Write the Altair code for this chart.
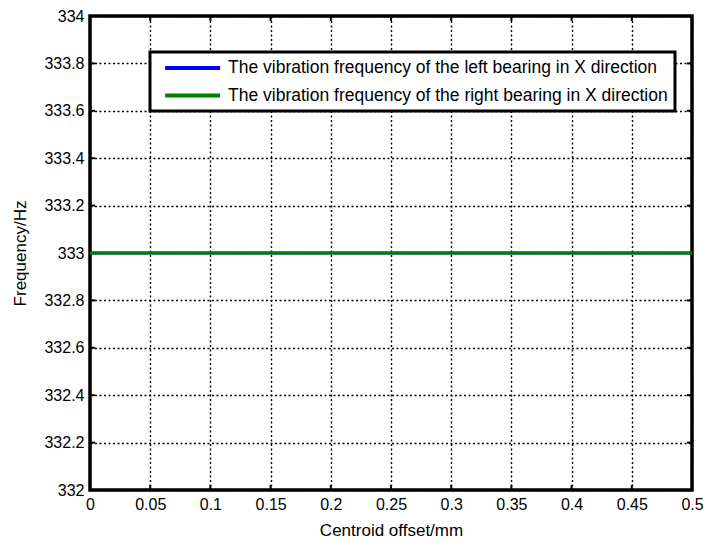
import altair as alt
import pandas as pd

offsets = [0.0, 0.05, 0.1, 0.15, 0.2, 0.25, 0.3, 0.35, 0.4, 0.45, 0.5]
left_freq = [333, 333, 333, 333, 333, 333, 333, 333, 333, 333, 333]
right_freq = [333, 333, 333, 333, 333, 333, 333, 333, 333, 333, 333]
series_names = [
    "The vibration frequency of the left bearing in X direction",
    "The vibration frequency of the right bearing in X direction",
]
series_colors = ["#0000ff", "#007f00"]
x_ticks = [0.0, 0.05, 0.1, 0.15, 0.2, 0.25, 0.3, 0.35, 0.4, 0.45, 0.5]
y_ticks = [332, 332.2, 332.4, 332.6, 332.8, 333, 333.2, 333.4, 333.6, 333.8, 334]

W, H = 602, 474
FONT = "Liberation Sans"

rows = []
for i, name in enumerate(series_names):
    vals = left_freq if i == 0 else right_freq
    for x, y in zip(offsets, vals):
        rows.append({"offset": x, "freq": y, "series": name, "order": i})
df = pd.DataFrame(rows)

xscale = alt.Scale(domain=[0, 0.5], nice=False, zero=False)
yscale = alt.Scale(domain=[332, 334], nice=False, zero=False)

xaxis = alt.Axis(
    values=x_ticks, grid=True, gridDash=[2, 2.5], gridColor="black", gridWidth=1.4,
    gridOpacity=1, ticks=False, domain=False, labelFont=FONT, labelFontSize=16,
    labelColor="black", labelPadding=6, labelFlush=False, labelOverlap=False,
    labelExpr="datum.value == 0 ? '0' : format(datum.value, '.2~f')",
    title="Centroid offset/mm", titleFont=FONT, titleFontSize=17, titleFontWeight="normal",
    titleColor="black", titleX=W / 2, titleY=45, titleBaseline="alphabetic",
)
yaxis = alt.Axis(
    values=y_ticks, grid=True, gridDash=[2, 2.5], gridColor="black", gridWidth=1.4,
    gridOpacity=1, ticks=False, domain=False, labelFont=FONT, labelFontSize=16,
    labelColor="black", labelPadding=6, labelFlush=False, labelOverlap=False,
    labelExpr="format(datum.value, '.1~f')",
    title="Frequency/Hz", titleFont=FONT, titleFontSize=17, titleFontWeight="normal",
    titleColor="black", titleX=-65, titleY=H / 2, titleAngle=-90, titleBaseline="alphabetic",
)

lines = alt.Chart(df).mark_line(strokeWidth=3).encode(
    x=alt.X("offset:Q", scale=xscale, axis=xaxis),
    y=alt.Y("freq:Q", scale=yscale, axis=yaxis),
    color=alt.Color(
        "series:N",
        scale=alt.Scale(domain=series_names, range=series_colors),
        legend=alt.Legend(
            title=None, orient="none", legendX=60, legendY=36,
            fillColor="white", strokeColor="black",
            padding=7, symbolType="M-1,0L7,0", symbolSize=189, symbolStrokeWidth=4,
            symbolOffset=6, labelOffset=47, labelFont=FONT, labelFontSize=17.5,
            labelColor="black", labelLimit=700, rowPadding=9.5, cornerRadius=0,
        ),
    ),
    order=alt.Order("order:Q"),
    detail="series:N",
)

xt = pd.DataFrame({"t": x_ticks})
yt = pd.DataFrame({"t": y_ticks})
tick_len = 5
xtick_bottom = alt.Chart(xt).mark_rule(color="black", strokeWidth=2).encode(
    x=alt.X("t:Q", scale=xscale), y=alt.value(H), y2=alt.value(H - tick_len))
xtick_top = alt.Chart(xt).mark_rule(color="black", strokeWidth=2).encode(
    x=alt.X("t:Q", scale=xscale), y=alt.value(0), y2=alt.value(tick_len))
ytick_left = alt.Chart(yt).mark_rule(color="black", strokeWidth=2).encode(
    y=alt.Y("t:Q", scale=yscale), x=alt.value(0), x2=alt.value(tick_len))
ytick_right = alt.Chart(yt).mark_rule(color="black", strokeWidth=2).encode(
    y=alt.Y("t:Q", scale=yscale), x=alt.value(W), x2=alt.value(W - tick_len))

chart = alt.layer(xtick_bottom, xtick_top, ytick_left, ytick_right, lines).properties(
    width=W, height=H,
    autosize=alt.AutoSizeParams(type="none"),
    padding={"left": 90, "top": 16, "right": 15, "bottom": 53},
    background="white",
).configure_view(stroke="black", strokeWidth=3.5).configure_legend(strokeWidth=3)

chart.save("out.html", embed_options={"renderer": "svg", "actions": False})
